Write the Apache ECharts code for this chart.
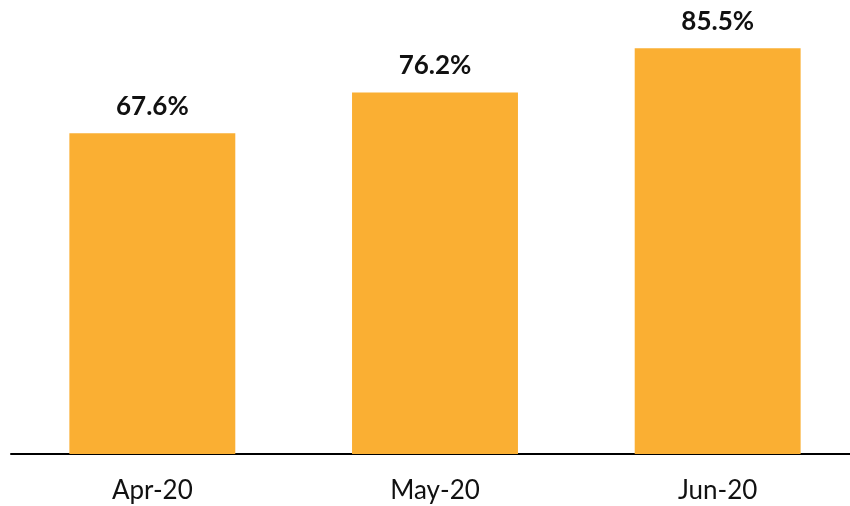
<!DOCTYPE html>
<html>
<head>
<meta charset="utf-8">
<script src="https://cdn.jsdelivr.net/npm/echarts@6/dist/echarts.min.js"></script>
<style>
  html, body { margin: 0; padding: 0; background: #fff; }
  #chart { width: 850px; height: 506px; }
</style>
</head>
<body>
<div id="chart"></div>
<script>
const months = ["Apr-20", "May-20", "Jun-20"];
const shares = [67.6, 76.2, 85.5];

const chart = echarts.init(document.getElementById("chart"));

chart.setOption({
  animation: false,
  grid: {
    left: 11,
    right: -9,
    top: 27,
    bottom: 52,
    containLabel: false,
    outerBoundsMode: "none",
  },
  xAxis: {
    type: "category",
    data: months,
    axisLine: { lineStyle: { color: "#000", width: 2 } },
    axisTick: { show: false },
    axisLabel: {
      color: "#111",
      fontFamily: "Lato",
      fontSize: 26,
      margin: 24,
    },
  },
  yAxis: {
    type: "value",
    min: 0,
    max: 90,
    show: false,
    splitLine: { show: false },
  },
  series: [
    {
      type: "bar",
      data: shares,
      barWidth: "58.7%",
      itemStyle: { color: "#FAAF33" },
      label: {
        show: true,
        position: "top",
        distance: 14,
        color: "#111",
        fontFamily: "Lato",
        fontWeight: "bold",
        fontSize: 26,
        formatter: (p) => p.value.toFixed(1) + "%",
      },
    },
  ],
});
</script>
</body>
</html>
